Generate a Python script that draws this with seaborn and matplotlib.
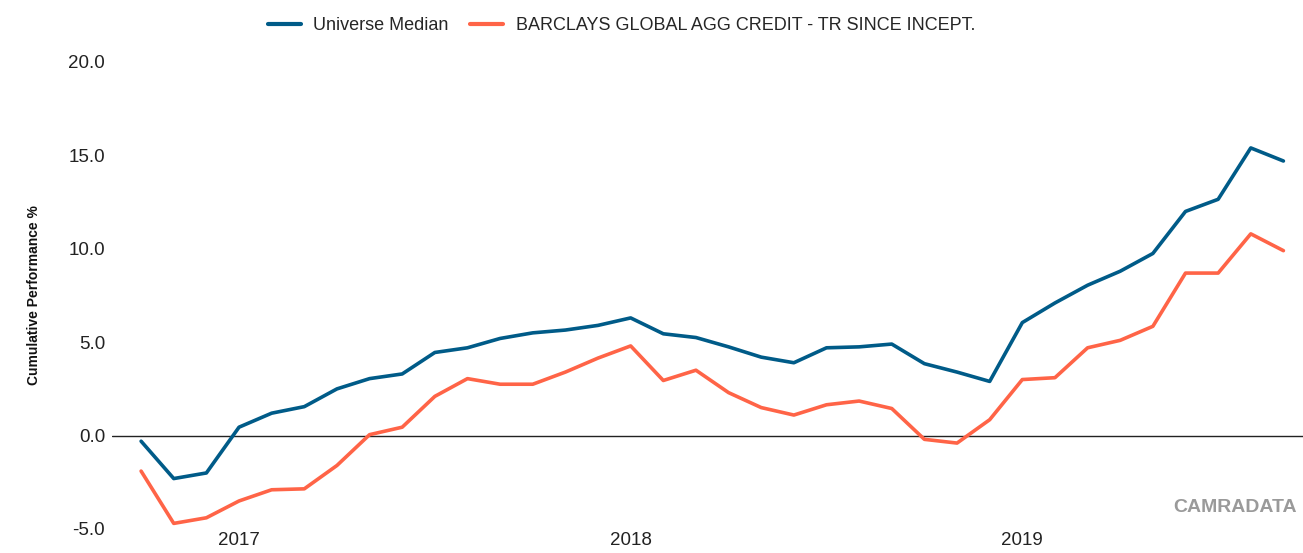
import matplotlib
matplotlib.use("Agg")
import matplotlib.pyplot as plt
import seaborn as sns
import pandas as pd

months = pd.date_range("2016-10-01", periods=36, freq="MS")
universe_median = [-0.3, -2.3, -2.0, 0.45, 1.2, 1.55, 2.5, 3.05, 3.3, 4.45, 4.7, 5.2,
                   5.5, 5.65, 5.9, 6.3, 5.45, 5.25, 4.75, 4.2, 3.9, 4.7, 4.75, 4.9,
                   3.85, 3.4, 2.9, 6.05, 7.1, 8.05, 8.8, 9.75, 12.0, 12.65, 15.4, 14.7]
barclays = [-1.9, -4.7, -4.4, -3.5, -2.9, -2.85, -1.6, 0.05, 0.45, 2.1, 3.05, 2.75,
            2.75, 3.4, 4.15, 4.8, 2.95, 3.5, 2.3, 1.5, 1.1, 1.65, 1.85, 1.45,
            -0.2, -0.4, 0.85, 3.0, 3.1, 4.7, 5.1, 5.85, 8.7, 8.7, 10.8, 9.9]
series_names = ["Universe Median", "BARCLAYS GLOBAL AGG CREDIT - TR SINCE INCEPT."]
year_labels = ["2017", "2018", "2019"]
y_ticks = [-5, 0, 5, 10, 15, 20]

sns.set_theme(style="white")
plt.rcParams["font.family"] = ["Liberation Sans", "DejaVu Sans"]

df = pd.DataFrame({
    "idx": list(range(len(months))) * 2,
    "value": universe_median + barclays,
    "series": [series_names[0]] * len(months) + [series_names[1]] * len(months),
})

fig = plt.figure(figsize=(13.03, 5.53), dpi=100)
ax = fig.add_axes([0.086, 0.0434, 0.914, 0.8445])
palette = {series_names[0]: "#005b88", series_names[1]: "#ff6447"}
sns.lineplot(data=df, x="idx", y="value", hue="series", palette=palette,
             linewidth=2.6, ax=ax, legend=True)

ax.axhline(0, color="#222222", linewidth=1.0, zorder=1)
ax.set_ylim(-5, 20)
ax.set_xlim(-0.89, 35.6)
ax.set_yticks(y_ticks)
ax.set_yticklabels([f"{v:.1f}" for v in y_ticks], fontsize=13.5, color="#222222")
year_pos = [i for i, m in enumerate(months) if m.month == 1]
ax.set_xticks(year_pos)
ax.set_xticklabels(year_labels, fontsize=13.5, color="#222222")
ax.tick_params(axis="both", length=0)
ax.tick_params(axis="y", pad=5)
ax.tick_params(axis="x", pad=2)
ax.set_xlabel("")
ax.set_ylabel("Cumulative Performance %", fontsize=10, fontweight="bold",
              color="#111111", labelpad=20)
for s in ax.spines.values():
    s.set_visible(False)
ax.grid(False)

handles, labels = ax.get_legend_handles_labels()
ax.get_legend().remove()
leg = fig.legend(handles, labels, loc="center", bbox_to_anchor=(0.477, 0.953), ncol=2,
                 frameon=False, fontsize=13, handlelength=1.8, handletextpad=0.7,
                 columnspacing=1.2)
for line in leg.get_lines():
    line.set_linewidth(3)

fig.text(0.995, 0.083, "CAMRADATA", ha="right", va="center", fontsize=14,
         fontweight="bold", color="#9a9a9a")

fig.savefig("out.png", dpi=100)
